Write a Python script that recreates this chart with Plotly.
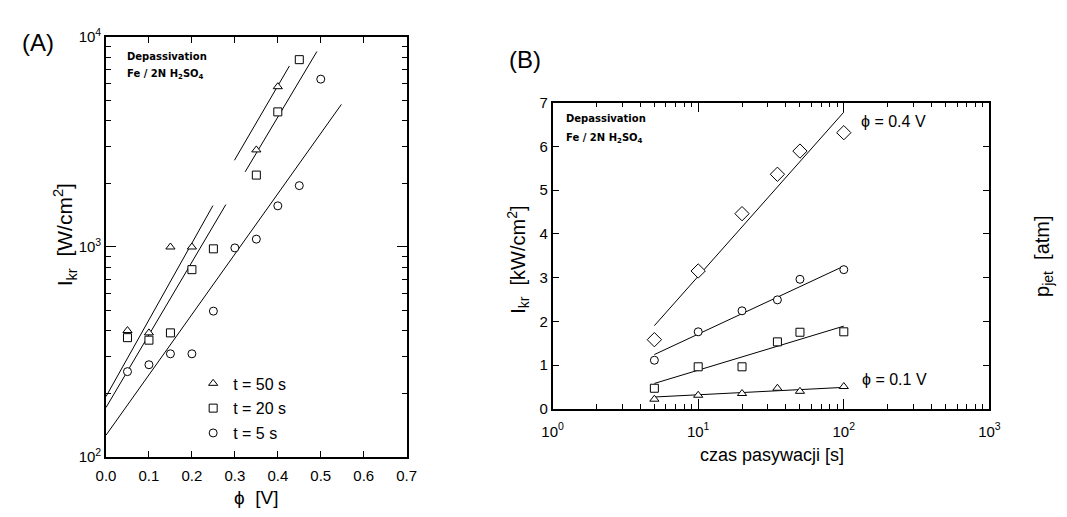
import plotly.graph_objects as go

# ---------------- Panel A: I_kr vs potential (log scale) ----------------
phi_50 = [0.05, 0.10, 0.15, 0.20, 0.35, 0.40]
I_50 = [400, 390, 1000, 1000, 2900, 5800]

phi_20 = [0.05, 0.10, 0.15, 0.20, 0.25, 0.35, 0.40, 0.45]
I_20 = [370, 360, 390, 780, 980, 2200, 4400, 7800]

phi_5 = [0.05, 0.10, 0.15, 0.20, 0.25, 0.30, 0.35, 0.40, 0.45, 0.50]
I_5 = [255, 275, 310, 310, 495, 990, 1090, 1570, 1960, 6300]

# fitted straight lines (end points) drawn through the data
fit_50_low_phi = [0.0, 0.249]
fit_50_low_I = [194, 1575]
fit_20_low_phi = [0.0, 0.279]
fit_20_low_I = [172, 1592]
fit_5_phi = [0.0, 0.548]
fit_5_I = [127, 4775]
fit_50_high_phi = [0.299, 0.427]
fit_50_high_I = [2588, 7280]
fit_20_high_phi = [0.324, 0.491]
fit_20_high_I = [2280, 8530]

phi_ticks = [0.0, 0.1, 0.2, 0.3, 0.4, 0.5, 0.6, 0.7]
phi_ticktext = ["0.0", "0.1", "0.2", "0.3", "0.4", "0.5", "0.6", "0.7"]
IA_ticks = [100, 1000, 10000]
IA_ticktext = ["10<sup>2</sup>", "10<sup>3</sup>", "10<sup>4</sup>"]

# ---------------- Panel B: I_kr vs passivation time ----------------
t_pas = [5, 10, 20, 35, 50, 100]
I_phi04 = [1.58, 3.15, 4.46, 5.36, 5.89, 6.31]
I_circ = [1.11, 1.76, 2.24, 2.49, 2.96, 3.18]
I_sq = [0.47, 0.96, 0.96, 1.53, 1.75, 1.76]
I_phi01 = [0.22, 0.31, 0.35, 0.47, 0.40, 0.51]

fit_t = [5, 100]
fit_phi04 = [1.90, 6.78]
fit_circ = [1.24, 3.26]
fit_sq = [0.58, 1.89]
fit_phi01 = [0.27, 0.49]

t_ticks = [1, 10, 100, 1000]
t_ticktext = ["10<sup>0</sup>", "10<sup>1</sup>", "10<sup>2</sup>", "10<sup>3</sup>"]
IB_ticks = [0, 1, 2, 3, 4, 5, 6, 7]

# ---------------- layout helpers ----------------
W, H = 1067, 517


def fx(p):
    return p / W


def fy(p):
    return 1 - p / H


BLACK = "black"
TICK_FONT = dict(family="Liberation Sans", size=15, color=BLACK)
LABEL_FONT = "Liberation Sans"
NOTE_FONT = dict(family="DejaVu Sans", size=10, color=BLACK, weight="bold")

fig = go.Figure()


def fit_line(x, y, xa, ya):
    fig.add_trace(go.Scatter(
        x=x, y=y, mode="lines", xaxis=xa, yaxis=ya,
        line=dict(color=BLACK, width=1), showlegend=False, hoverinfo="skip"))


def points(x, y, symbol, size, xa, ya, name=None, group=None):
    fig.add_trace(go.Scatter(
        x=x, y=y, mode="markers", xaxis=xa, yaxis=ya, name=name,
        legendgroup=group, showlegend=name is not None,
        marker=dict(symbol=symbol, size=size, color="white",
                    line=dict(color=BLACK, width=1))))


# Panel A lines and markers
fit_line(fit_50_low_phi, fit_50_low_I, "x", "y")
fit_line(fit_20_low_phi, fit_20_low_I, "x", "y")
fit_line(fit_5_phi, fit_5_I, "x", "y")
fit_line(fit_50_high_phi, fit_50_high_I, "x", "y")
fit_line(fit_20_high_phi, fit_20_high_I, "x", "y")
points(phi_50, I_50, "triangle-up", 8, "x", "y", "t = 50 s", "g50")
points(phi_20, I_20, "square", 8, "x", "y", "t = 20 s", "g20")
points(phi_5, I_5, "circle", 8, "x", "y", "t = 5 s", "g5")

# Panel B lines and markers
fit_line(fit_t, fit_phi04, "x2", "y2")
fit_line(fit_t, fit_circ, "x2", "y2")
fit_line(fit_t, fit_sq, "x2", "y2")
fit_line(fit_t, fit_phi01, "x2", "y2")
points(t_pas, I_phi04, "diamond", 11, "x2", "y2")
points(t_pas, I_circ, "circle", 8, "x2", "y2")
points(t_pas, I_sq, "square", 8, "x2", "y2")
points(t_pas, I_phi01, "triangle-up", 8, "x2", "y2")

minor_A = [m * 10 ** k for k in (2, 3) for m in range(2, 10)]
minor_B = [m * 10 ** k for k in (0, 1, 2) for m in range(2, 10)]

axis_common = dict(showgrid=False, zeroline=False, showline=True,
                   linecolor=BLACK, linewidth=1.6, mirror="ticks",
                   ticks="inside", tickcolor=BLACK, tickwidth=1.2,
                   tickfont=TICK_FONT)

fig.update_layout(
    width=W, height=H,
    margin=dict(l=0, r=0, t=0, b=0),
    paper_bgcolor="white", plot_bgcolor="white",
    xaxis=dict(domain=[fx(97), fx(404)], range=[0, 0.7], anchor="y",
               tickmode="array", tickvals=phi_ticks, ticktext=phi_ticktext,
               ticklen=6, ticklabelstandoff=4, **axis_common),
    yaxis=dict(domain=[fy(463), fy(27)], type="log", range=[2, 4], anchor="x",
               tickmode="array", tickvals=IA_ticks, ticktext=IA_ticktext,
               ticklen=10,
               minor=dict(tickmode="array", tickvals=minor_A, ticks="inside",
                          ticklen=5, tickcolor=BLACK, tickwidth=1),
               **axis_common),
    xaxis2=dict(domain=[fx(553), fx(999)], type="log", range=[0, 3],
                anchor="y2", tickmode="array", tickvals=t_ticks,
                ticktext=t_ticktext, ticklen=10, ticklabelstandoff=8,
                minor=dict(tickmode="array", tickvals=minor_B, ticks="inside",
                           ticklen=5, tickcolor=BLACK, tickwidth=1),
                **axis_common),
    yaxis2=dict(domain=[fy(413), fy(95)], range=[0, 7], anchor="x2",
                tickmode="array", tickvals=IB_ticks, ticklen=7,
                **axis_common),
    legend=dict(x=fx(186), y=fy(369), xanchor="left", yanchor="top",
                bgcolor="rgba(0,0,0,0)", tracegroupgap=1,
                font=dict(family=LABEL_FONT, size=16, color=BLACK)),
    showlegend=True,
)

annotations = [
    # panel letters
    dict(text="(A)", x=fx(28), y=fy(33), font=dict(family=LABEL_FONT, size=24)),
    dict(text="(B)", x=fx(525), y=fy(50), font=dict(family=LABEL_FONT, size=24)),
    # axis titles
    dict(text="I<sub>kr</sub>  [W/cm<sup>2</sup>]", x=fx(55), y=fy(232),
         textangle=-90, font=dict(family=LABEL_FONT, size=21)),
    dict(text="ϕ  [V]", x=fx(250), y=fy(505),
         font=dict(family=LABEL_FONT, size=19)),
    dict(text="I<sub>kr</sub>  [kW/cm<sup>2</sup>]", x=fx(518), y=fy(258),
         textangle=-90, font=dict(family=LABEL_FONT, size=20)),
    dict(text="czas pasywacji [s]", x=fx(777), y=fy(461),
         font=dict(family=LABEL_FONT, size=18)),
    dict(text="p<sub>jet</sub>  [atm]", x=fx(1054), y=fy(254),
         textangle=-90, font=dict(family=LABEL_FONT, size=20)),
    # curve labels in panel B
    dict(text="ϕ = 0.4 V", x=fx(866), y=fy(115), xanchor="left",
         font=dict(family=LABEL_FONT, size=16)),
    dict(text="ϕ = 0.1 V", x=fx(867), y=fy(383), xanchor="left",
         font=dict(family=LABEL_FONT, size=16)),
    # system notes
    dict(text="Depassivation", x=fx(116), y=fy(47), xanchor="left", font=NOTE_FONT),
    dict(text="Fe / 2N H<sub>2</sub>SO<sub>4</sub>", x=fx(116), y=fy(66),
         xanchor="left", font=NOTE_FONT),
    dict(text="Depassivation", x=fx(565), y=fy(112), xanchor="left", font=NOTE_FONT),
    dict(text="Fe / 2N H<sub>2</sub>SO<sub>4</sub>", x=fx(565), y=fy(132),
         xanchor="left", font=NOTE_FONT),
]
for a in annotations:
    a.setdefault("xanchor", "center")
    a.update(xref="paper", yref="paper", yanchor="middle", showarrow=False)
    a["font"].setdefault("color", BLACK)
    fig.add_annotation(**a)

fig.write_html("out.html")
